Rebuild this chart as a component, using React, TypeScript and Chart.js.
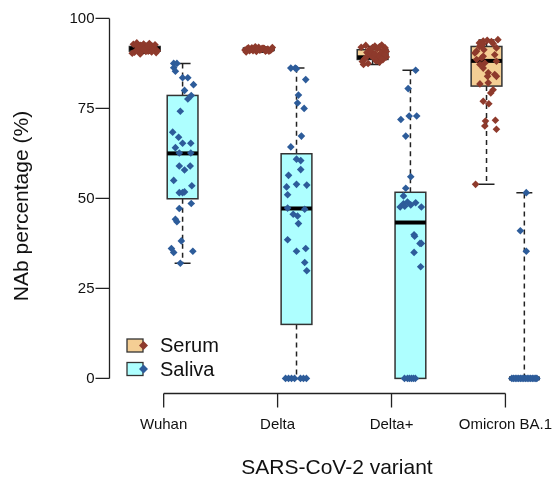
import React, { useEffect, useRef } from 'react';
import { Chart, registerables } from 'chart.js';
Chart.register(...registerables);

const categories = ['Wuhan', 'Delta', 'Delta+', 'Omicron BA.1'];
const yTicks = [0, 25, 50, 75, 100];
const seriesNames = ['Serum', 'Saliva'];
const xTitle = 'SARS-CoV-2 variant';
const yTitle = 'NAb percentage (%)';

// box stats: [lower whisker, Q1, median, Q3, upper whisker]
const serumBox = [
  [90.3, 90.9, 91.6, 92.2, 93.0],
  [90.6, 91.1, 91.4, 91.7, 92.1],
  [87.2, 88.6, 89.2, 91.3, 92.2],
  [53.9, 81.2, 88.2, 92.2, 94.0],
];
const salivaBox = [
  [32.0, 49.9, 62.5, 78.6, 87.5],
  [0, 15.0, 47.2, 62.4, 86.2],
  [0, 0, 43.3, 51.7, 85.6],
  [0, 0, 0, 0, 51.6],
];

// individual observations (values) and horizontal jitter (category units)
const serumWuhan = [92.8, 93.2, 92.5, 92.9, 91.8, 92.1, 91.5, 91.0, 90.6, 91.3, 92.4, 91.7, 90.9, 92.0, 91.4, 90.3, 92.6, 91.9, 91.1, 90.8, 92.3, 91.6, 90.5, 92.7, 91.2, 90.1, 92.2, 91.5, 90.7, 93.0];
const serumWuhanJit = [-0.10, -0.07, -0.04, -0.01, 0.02, 0.05, 0.08, 0.11, -0.09, -0.06, -0.03, 0.0, 0.03, 0.06, 0.09, -0.11, -0.08, -0.05, -0.02, 0.01, 0.04, 0.07, 0.10, 0.09, -0.07, -0.04, 0.03, -0.01, 0.06, 0.04];
const serumDelta = [91.2, 91.6, 91.0, 91.8, 91.4, 90.8, 92.0, 91.3, 91.7, 90.9, 91.5, 91.1, 91.9, 90.7, 91.4, 92.1, 91.2, 91.6, 90.9, 91.3, 91.8, 91.0, 91.5, 91.7, 91.2];
const serumDeltaJit = [-0.12, -0.10, -0.08, -0.06, -0.04, -0.02, 0.0, 0.02, 0.04, 0.06, 0.08, 0.10, 0.12, -0.11, -0.07, -0.03, 0.01, 0.05, 0.09, 0.11, -0.09, -0.05, -0.01, 0.03, 0.07];
const serumDeltaP = [92.5, 92.3, 92.6, 92.0, 91.8, 91.6, 91.3, 91.0, 90.8, 90.5, 90.3, 90.0, 89.8, 89.5, 89.3, 89.0, 88.8, 88.5, 88.2, 88.0, 87.8, 87.5, 87.2, 91.9, 90.7, 89.9, 88.7, 92.1, 90.2, 89.1];
const serumDeltaPJit = [-0.06, 0.02, 0.08, -0.10, 0.11, 0.04, -0.03, 0.09, 0.12, -0.05, 0.07, 0.10, -0.02, 0.05, 0.12, 0.01, -0.07, 0.09, 0.03, -0.09, 0.06, -0.04, -0.08, 0.00, -0.01, 0.11, 0.08, 0.06, 0.02, -0.06];
const serumOmicron = [93.2, 93.7, 93.9, 93.6, 94.1, 92.5, 93.0, 91.8, 90.9, 89.9, 88.1, 88.6, 89.5, 92.2, 92.9, 91.3, 90.4, 89.0, 87.6, 87.2, 86.2, 84.4, 84.9, 83.9, 83.9, 81.8, 82.1, 80.2, 79.3, 77.0, 76.3, 71.5, 70.1, 71.7, 69.2, 53.9];
const serumOmicronJit = [-0.063, -0.029, 0.006, 0.043, 0.10, -0.043, 0.058, 0.087, -0.087, 0.072, 0.087, -0.087, -0.029, -0.061, -0.03, -0.023, -0.102, -0.043, -0.015, -0.058, -0.029, 0.072, 0.015, 0.009, 0.087, -0.058, 0.015, 0.058, 0.037, -0.029, 0.02, -0.009, -0.015, 0.078, 0.087, -0.096];

const salivaWuhan = [87.5, 87.5, 86.3, 85.3, 83.5, 83.5, 81.6, 80.0, 78.6, 77.6, 74.2, 68.4, 67.0, 65.3, 65.3, 64.1, 62.6, 62.6, 59.0, 59.0, 57.9, 55.0, 53.5, 51.6, 51.6, 51.8, 48.6, 47.2, 44.2, 43.5, 38.2, 36.1, 35.0, 35.3, 32.0];
const salivaWuhanJit = [-0.078, -0.05, -0.078, -0.063, 0, 0.046, 0.096, 0.017, 0.076, 0.046, -0.02, -0.087, -0.035, 0, 0.072, -0.063, 0.072, -0.029, -0.029, 0.067, 0.017, -0.078, 0.081, -0.029, 0, 0.017, 0.076, -0.029, -0.063, -0.05, -0.011, -0.098, -0.078, 0.09, -0.02];
const salivaDelta = [86.2, 86.2, 86.0, 83.0, 78.7, 76.5, 75.0, 67.3, 64.3, 60.9, 60.5, 58.0, 56.4, 53.2, 53.9, 53.7, 51.0, 47.3, 47.0, 45.6, 45.1, 43.0, 38.5, 35.3, 36.1, 32.2, 29.9, 0, 0, 0, 0, 0, 0, 0];
const salivaDeltaJit = [-0.05, -0.011, 0, 0.081, 0.017, 0.009, 0.067, 0.043, -0.05, 0, 0.037, 0.037, -0.07, -0.087, 0, 0.09, -0.078, -0.078, 0.072, -0.029, 0.009, 0.017, -0.078, 0, 0.081, 0.072, 0.09, -0.096, -0.07, -0.044, -0.017, 0.035, 0.061, 0.087];
const salivaDeltaP = [85.6, 80.5, 71.9, 72.9, 72.9, 67.3, 56.0, 52.8, 50.7, 47.6, 48.5, 49.0, 48.2, 47.8, 48.8, 47.6, 39.9, 39.5, 37.5, 37.5, 35.0, 31.0, 0, 0, 0, 0, 0, 0];
const salivaDeltaPJit = [0.046, -0.02, -0.084, -0.011, 0.055, -0.041, 0.003, -0.041, -0.061, -0.09, -0.061, -0.026, 0.003, -0.05, 0.046, 0.096, 0.032, 0.037, 0.084, 0.096, 0.032, 0.09, -0.052, -0.026, -0.009, 0.009, 0.026, 0.043];
const salivaOmicron = [51.6, 41.0, 35.3, 0, 0, 0, 0, 0, 0, 0, 0, 0, 0, 0, 0, 0, 0, 0, 0];
const salivaOmicronJit = [0.017, -0.035, 0.017, -0.11, -0.095, -0.08, -0.065, -0.05, -0.035, -0.02, -0.005, 0.01, 0.025, 0.04, 0.055, 0.07, 0.085, 0.10, 0.11];

const serumPoints = [serumWuhan, serumDelta, serumDeltaP, serumOmicron];
const serumJitter = [serumWuhanJit, serumDeltaJit, serumDeltaPJit, serumOmicronJit];
const salivaPoints = [salivaWuhan, salivaDelta, salivaDeltaP, salivaOmicron];
const salivaJitter = [salivaWuhanJit, salivaDeltaJit, salivaDeltaPJit, salivaOmicronJit];

const GROUP_OFFSET = 0.166;
const BOX_HALF = 0.135;
const CAP_HALF = 0.07;
const SERUM_FILL = '#F4CE94';
const SALIVA_FILL = '#AEFFFF';
const SERUM_PT = '#8E3A2C';
const SALIVA_PT = '#2D5C9A';
const FONT = '"Liberation Sans", Arial, sans-serif';

function buildPoints(vals: number[][], jits: number[][], off: number) {
  const out: { x: number; y: number }[] = [];
  vals.forEach((arr, i) => {
    arr.forEach((v, k) => out.push({ x: i + 1 + off + (jits[i][k] || 0), y: v }));
  });
  return out;
}

const boxPlugin = {
  id: 'boxes',
  beforeDatasetsDraw(chart: any) {
    const { ctx, scales } = chart;
    const xs = scales.x;
    const ys = scales.y;
    const drawBox = (st: number[], pos: number, fill: string) => {
      const [lo, q1, med, q3, hi] = st;
      const xc = xs.getPixelForValue(pos);
      const hw = xs.getPixelForValue(pos + BOX_HALF) - xc;
      const cw = xs.getPixelForValue(pos + CAP_HALF) - xc;
      ctx.save();
      ctx.strokeStyle = '#222';
      ctx.lineWidth = 1.5;
      ctx.setLineDash([5, 4]);
      ctx.beginPath();
      ctx.moveTo(xc, ys.getPixelForValue(q3));
      ctx.lineTo(xc, ys.getPixelForValue(hi));
      ctx.moveTo(xc, ys.getPixelForValue(q1));
      ctx.lineTo(xc, ys.getPixelForValue(lo));
      ctx.stroke();
      ctx.setLineDash([]);
      ctx.beginPath();
      ctx.moveTo(xc - cw, ys.getPixelForValue(hi));
      ctx.lineTo(xc + cw, ys.getPixelForValue(hi));
      ctx.moveTo(xc - cw, ys.getPixelForValue(lo));
      ctx.lineTo(xc + cw, ys.getPixelForValue(lo));
      ctx.stroke();
      const top = ys.getPixelForValue(q3);
      const bot = ys.getPixelForValue(q1);
      ctx.fillStyle = fill;
      ctx.fillRect(xc - hw, top, 2 * hw, bot - top);
      ctx.strokeStyle = '#333';
      ctx.lineWidth = 1.5;
      ctx.strokeRect(xc - hw, top, 2 * hw, bot - top);
      ctx.strokeStyle = '#000';
      ctx.lineWidth = 4;
      ctx.beginPath();
      ctx.moveTo(xc - hw, ys.getPixelForValue(med));
      ctx.lineTo(xc + hw, ys.getPixelForValue(med));
      ctx.stroke();
      ctx.restore();
    };
    categories.forEach((_, i) => {
      drawBox(serumBox[i], i + 1 - GROUP_OFFSET, SERUM_FILL);
      drawBox(salivaBox[i], i + 1 + GROUP_OFFSET, SALIVA_FILL);
    });
  },
  afterDraw(chart: any) {
    const { ctx, scales, chartArea } = chart;
    const xs = scales.x;
    const ys = scales.y;
    ctx.save();
    ctx.strokeStyle = '#222';
    ctx.lineWidth = 1.3;
    ctx.fillStyle = '#111';
    // y axis
    const ax = Math.round(chartArea.left) + 0.5;
    ctx.beginPath();
    ctx.moveTo(ax, ys.getPixelForValue(yTicks[0]));
    ctx.lineTo(ax, ys.getPixelForValue(yTicks[yTicks.length - 1]));
    yTicks.forEach((t) => {
      const py = ys.getPixelForValue(t);
      ctx.moveTo(ax, py);
      ctx.lineTo(ax - 14, py);
    });
    ctx.stroke();
    ctx.font = `15px ${FONT}`;
    ctx.textAlign = 'right';
    ctx.textBaseline = 'middle';
    yTicks.forEach((t) => ctx.fillText(String(t), ax - 15, ys.getPixelForValue(t) + 0.5));
    // x axis
    const ay = Math.round(chartArea.bottom) + 0.5;
    ctx.beginPath();
    ctx.moveTo(xs.getPixelForValue(1), ay);
    ctx.lineTo(xs.getPixelForValue(categories.length), ay);
    categories.forEach((_, i) => {
      const px = xs.getPixelForValue(i + 1);
      ctx.moveTo(px, ay);
      ctx.lineTo(px, ay + 14);
    });
    ctx.stroke();
    ctx.textAlign = 'center';
    categories.forEach((c, i) => ctx.fillText(c, xs.getPixelForValue(i + 1), ay + 31));
    // titles
    ctx.font = `21px ${FONT}`;
    ctx.fillText(xTitle, 337, 468);
    ctx.save();
    ctx.translate(22, 206);
    ctx.rotate(-Math.PI / 2);
    ctx.fillText(yTitle, 0, 0);
    ctx.restore();
    // legend
    const items = [
      { name: seriesNames[0], fill: SERUM_FILL, pt: SERUM_PT, cy: 345.5 },
      { name: seriesNames[1], fill: SALIVA_FILL, pt: SALIVA_PT, cy: 369 },
    ];
    items.forEach((it) => {
      ctx.fillStyle = it.fill;
      ctx.fillRect(127, it.cy - 6.5, 16, 13);
      ctx.strokeStyle = '#333';
      ctx.lineWidth = 1.3;
      ctx.strokeRect(127, it.cy - 6.5, 16, 13);
      ctx.fillStyle = it.pt;
      ctx.beginPath();
      ctx.moveTo(143.5, it.cy - 4.5);
      ctx.lineTo(148, it.cy);
      ctx.lineTo(143.5, it.cy + 4.5);
      ctx.lineTo(139, it.cy);
      ctx.closePath();
      ctx.fill();
      ctx.fillStyle = '#111';
      ctx.font = `20px ${FONT}`;
      ctx.textAlign = 'left';
      ctx.textBaseline = 'middle';
      ctx.fillText(it.name, 160, it.cy + 1);
    });
    ctx.restore();
  },
};

export default function App() {
  const ref = useRef<HTMLCanvasElement | null>(null);
  useEffect(() => {
    if (!ref.current) return;
    const chart = new Chart(ref.current, {
      type: 'scatter',
      data: {
        datasets: [
          {
            label: seriesNames[0],
            data: buildPoints(serumPoints, serumJitter, -GROUP_OFFSET),
            pointStyle: 'rectRot',
            pointRadius: 3.8,
            backgroundColor: SERUM_PT,
            borderWidth: 0,
          },
          {
            label: seriesNames[1],
            data: buildPoints(salivaPoints, salivaJitter, GROUP_OFFSET),
            pointStyle: 'rectRot',
            pointRadius: 3.8,
            backgroundColor: SALIVA_PT,
            borderWidth: 0,
          },
        ],
      },
      options: {
        animation: false,
        responsive: false,
        devicePixelRatio: 1,
        layout: { padding: { left: 109, right: 0, top: 1.7, bottom: 88.2 } },
        plugins: { legend: { display: false }, tooltip: { enabled: false } },
        scales: {
          x: { type: 'linear', min: 0.52, max: 4.4, display: false },
          y: { type: 'linear', min: -4, max: 104, display: false },
        },
      },
      plugins: [boxPlugin],
    } as any);
    return () => chart.destroy();
  }, []);
  return (
    <div style={{ position: 'absolute', left: 0, top: 0, width: 555, height: 481, background: '#fff' }}>
      <canvas ref={ref} width={555} height={481} style={{ display: 'block' }} />
    </div>
  );
}
